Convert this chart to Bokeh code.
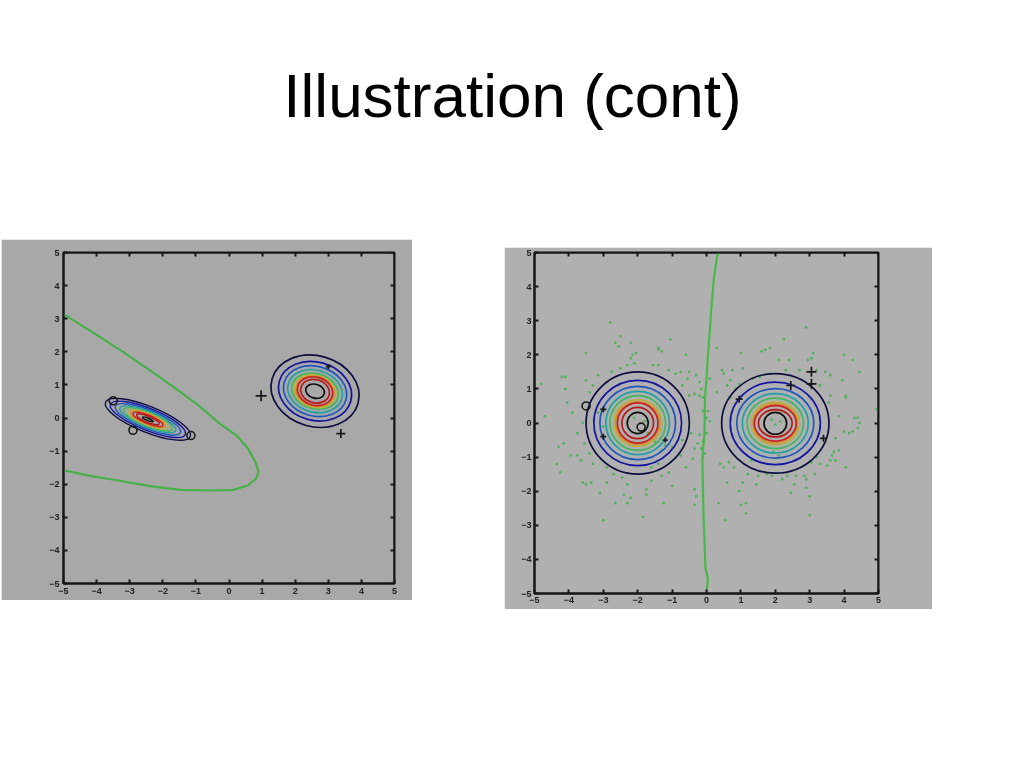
from bokeh.plotting import figure
from bokeh.layouts import column, row
from bokeh.models import LinearAxis, FixedTicker
from bokeh.embed import file_html
from bokeh.resources import INLINE

TITLE = "Illustration (cont)"
TICKS = [-5, -4, -3, -2, -1, 0, 1, 2, 3, 4, 5]
COLORS = ["#0d0d40", "#1414a0", "#1f55c0", "#1fa0a8", "#3fb860", "#b8b040", "#d88a30", "#c82020", "#b81818", "#101010"]

# left panel
L_A_X, L_A_Y, L_A_ANGLE = -2.45, -0.04, -22
L_A_W = [2.76, 2.44, 2.12, 1.82, 1.58, 1.32, 1.12, 0.98, 0.74, 0.35]
L_A_H = [0.78, 0.66, 0.56, 0.48, 0.41, 0.35, 0.30, 0.25, 0.18, 0.07]
L_B_X, L_B_Y, L_B_ANGLE = 2.6, 0.81, -16
L_B_W = [2.70, 2.24, 1.94, 1.68, 1.44, 1.28, 1.16, 1.08, 0.88, 0.58]
L_B_H = [2.14, 1.76, 1.50, 1.27, 1.06, 0.97, 0.89, 0.85, 0.70, 0.42]
L_CURVE_X = [-5, -4.2, -3.19, -2.08, -0.98, -0.27, 0.23, 0.58, 0.82, 0.89, 0.82, 0.58, 0.13, -0.47, -1.48, -2.39, -3.39, -4.2, -5]
L_CURVE_Y = [3.14, 2.64, 1.99, 1.23, 0.43, -0.18, -0.53, -0.93, -1.38, -1.63, -1.83, -2.03, -2.17, -2.19, -2.17, -2.06, -1.88, -1.75, -1.58]
L_O_X = [-3.5, -2.9, -1.15]
L_O_Y = [0.52, -0.37, -0.53]
L_P_X = [0.97, 3.38, 3.0]
L_P_Y = [0.67, -0.47, 1.55]

# right panel
R_A_X, R_A_Y = -2.0, 0.0
R_A_W = [3.00, 2.55, 2.20, 1.85, 1.62, 1.40, 1.28, 1.18, 0.92, 0.61]
R_A_H = [3.00, 2.50, 2.15, 1.85, 1.60, 1.38, 1.26, 1.18, 0.92, 0.62]
R_B_X, R_B_Y = 2.0, -0.01
R_B_W = [3.12, 2.62, 2.24, 1.92, 1.64, 1.40, 1.28, 1.22, 0.98, 0.66]
R_B_H = [2.92, 2.42, 2.04, 1.74, 1.48, 1.26, 1.14, 1.04, 0.80, 0.64]
R_CURVE_X = [0, 0.04, -0.03, -0.06, -0.08, -0.1, -0.12, -0.06, -0.04, 0, 0.04, 0.1, 0.14, 0.21, 0.31, 0.36]
R_CURVE_Y = [-5, -4.56, -4.27, -3.4, -2.9, -2.13, -1.05, -0.27, 0.8, 1.29, 1.97, 2.75, 3.34, 4.21, 4.9, 5]
R_O_X = [-3.5, -1.9]
R_O_Y = [0.5, -0.12]
R_P_X = [3.05, 3.05, 2.45, 0.95, 3.4, -3.0, -3.0, -1.2]
R_P_Y = [1.5, 1.15, 1.1, 0.7, -0.45, 0.4, -0.4, -0.5]
R_P_S = [10, 10, 9, 7, 7, 6, 6, 5]
DOTS_X = [-2.8, -2.5, -2.65, -2.55, -2.2, -3.5, -2.15, -2.2, -2.05, -1.4, -1.05, -1.4, -1.3, -0.6,
          -4.2, -4.1, -3.5, -3.4, -3.3, -3.15, -2.75, -2.5, -2.3, -2.1, -1.55, -1.4, -1.1, -0.9, -0.75, -0.5, -0.3, -0.2, -0.15, -0.55, -0.7, -0.35, -0.5, -0.2, -0.1,
          -4.8, -4.7, -4.1, -4.05, -3.15, -3.9, -3.6, -3, -3.75, -4.3, -4.15, -3.95, -3.75, -4.35, -4.25, -3.65, -3.55, -3.4, -3.3, -3.6, -3.5, -3.35, -3.1, -2.9, -2.9, -2.7, -2.45, -2.3, -2.4, -2.2, -2.3, -2.65, -3.0, -1.85, -1.75, -1.75, -1.6, -1.3, -1.25, -1.0, -1.1, -1.4, -1.6, -0.6, -0.75, -0.4, -0.35, -0.25, -0.1, -0.2, -0.45, 0.0, -0.05, -0.1, -0.35, -0.3, -0.35, -0.15,
          -1.8, -2.1, -1.7, -1.5, -1.3, -1.2, -1.0, -0.7,
          0.3, 0.1, 0.5, 0.45, 0.75, 0.7, 0.6, 0.85, 0.95, 0.3, 0.7, 0.05, 0.0, 0.1, -0.1,
          1.0, 1.6, 1.7, 1.85, 2.25, 2.9, 3.1, 3.05, 2.1, 2.4, 2.95, 3.2, 3.45, 4.0, 4.25, 4.45, 2.7, 2.3, 1.85, 1.55, 1.05, 1.35, 3.6, 3.3, 3.95, 4.05, 4.05, 3.6, 3.55, 4.95, 3.85, 4.3, 4.4, 4.45, 4.4, 4.25, 4.15, 4.0, 3.75, 3.85, 3.7, 3.6, 3.75, 4.05, 3.65, 3.3, 3.2, 3.05, 3.5, 3.15, 2.85, 2.9, 2.6, 2.35, 2.2, 1.9, 1.75, 1.5, 1.2, 1.45, 1.05, 0.6, 0.4, 0.5, 0.8, 0.65, 0.35, 0.55, 1.0, 1.15, 1.15, 0.95, 2.45, 3.0, 3.0, 2.9, 2.55,
          2.0, 2.15, 1.9, 1.95, 2.1, 1.3]
DOTS_Y = [2.95, 2.55, 2.35, 2.25, 2.35, 2.05, 2.0, 1.9, 2.05, 2.2, 2.45, 2.15, 2.1, 2.0,
          1.35, 1.35, 1.25, 0.9, 1.1, 1.4, 1.5, 1.6, 1.7, 1.75, 1.7, 1.7, 1.55, 1.45, 1.5, 1.5, 1.4, 1.2, 1.0, 1.3, 1.1, 0.85, 0.8, 0.8, 0.75,
          1.15, 0.2, 1.0, 0.6, 0.3, 0.3, 0.0, -0.1, -0.3, -0.7, -0.6, -0.95, -0.95, -1.2, -1.45, -1.1, -0.6, -0.9, -1.2, -1.75, -1.8, -1.75, -2.05, -1.75, -1.3, -1.5, -1.6, -1.8, -2.1, -2.2, -2.35, -2.35, -2.85, -2.75, -2.1, -1.95, -1.7, -1.55, -2.35, -1.85, -1.45, -1.2, -1.3, -1.3, -0.95, -1.05, -0.75, -0.6, -0.55, -0.35, -0.3, -0.3, -0.9, -1.0, -1.95, -2.15, -2.4, -0.75,
          0.05, 0.15, -0.3, -0.55, -0.8, -0.65, -0.7, -0.5,
          2.2, 1.3, 1.45, 1.55, 1.55, 1.25, 1.1, 1.0, 1.15, 0.9, 0.75, 0.35, 0.15, 0.05, 0.35,
          2.05, 2.1, 2.15, 2.2, 2.45, 2.8, 2.05, 1.9, 1.85, 1.85, 1.85, 1.55, 1.5, 2.0, 1.85, 1.5, 1.55, 1.55, 1.45, 1.35, 1.6, 1.3, 1.4, 1.1, 1.25, 0.8, 0.75, 0.8, 0.6, 0.4, 0.2, 0.15, 0.15, 0.0, -0.15, -0.25, -0.3, -0.25, -0.45, -0.8, -0.85, -1.1, -1.1, -1.3, -0.95, -1.2, -1.0, -1.15, -1.25, -1.5, -1.55, -1.65, -1.55, -1.55, -1.65, -1.55, -1.5, -1.55, -1.5, -1.8, -1.75, -1.75, -1.2, -1.3, -1.3, -1.15, -2.35, -2.85, -2.4, -2.35, -2.65, -2.0, -2.05, -2.7, -2.15, -1.9, -1.8,
          -0.05, 0.05, 0.1, -0.85, -0.95, -1.1]


def panel(width, height, bg, left, right, top, bottom, margin, standoff):
    p = figure(width=width, height=height, x_range=(-5, 5), y_range=(-5, 5), title=None,
               output_backend="svg", toolbar_location=None, x_axis_type=None, y_axis_type=None,
               min_border_left=left, min_border_right=right, min_border_top=top, min_border_bottom=bottom,
               background_fill_color=bg, border_fill_color=bg, outline_line_color="#161616",
               outline_line_width=2, margin=margin)
    p.grid.visible = False
    blank = {t: "" for t in TICKS}
    for side, labelled in (("left", True), ("below", True), ("right", False), ("above", False)):
        ax = LinearAxis(ticker=FixedTicker(ticks=TICKS), major_tick_in=4, major_tick_out=0,
                        minor_tick_line_color=None, axis_line_color="#161616", axis_line_width=2,
                        major_tick_line_color="#161616", major_tick_line_width=2,
                        major_label_text_font="Liberation Sans", major_label_text_font_size="9px",
                        major_label_text_font_style="bold", major_label_text_color="#222222",
                        major_label_standoff=standoff)
        if not labelled:
            ax.major_label_overrides = blank
            ax.major_label_standoff = 0
            ax.major_label_text_font_size = "0px"
            ax.fixed_location = 5
        p.add_layout(ax, side)
    p.styles = {"filter": "blur(0.5px)"}
    return p


def rings(p, x, y, widths, heights, angle=0, lw=1.7):
    p.ellipse(x=[x] * len(widths), y=[y] * len(widths), width=widths, height=heights,
              angle=angle, angle_units="deg", fill_color=None, line_color=COLORS, line_width=lw)


title_fig = figure(width=1024, height=239, output_backend="svg", toolbar_location=None,
                   title=TITLE, x_axis_type=None, y_axis_type=None, outline_line_color=None,
                   min_border_top=134, min_border_bottom=0, min_border_left=0, min_border_right=0,
                   margin=(0, 0, 0, 0))
title_fig.grid.visible = False
title_fig.title.align = "center"
title_fig.title.offset = 1
title_fig.title.text_font = "Liberation Sans"
title_fig.title.text_font_size = "62px"
title_fig.title.text_font_style = "normal"
title_fig.title.text_color = "#000000"

left = panel(411, 361, "#a8a8a8", 62, 18, 13, 17, (0, 0, 0, 1), 4)
rings(left, L_A_X, L_A_Y, L_A_W, L_A_H, L_A_ANGLE, lw=1.4)
rings(left, L_B_X, L_B_Y, L_B_W, L_B_H, L_B_ANGLE)
left.line(L_CURVE_X, L_CURVE_Y, line_color="#48b048", line_width=2.2)
left.scatter(L_O_X, L_O_Y, marker="circle", size=8, fill_color=None, line_color="#181818", line_width=1.6)
left.scatter(L_P_X, L_P_Y, marker="cross", size=[11, 9, 5], line_color="#181818", line_width=1.7)

right = panel(428, 362, "#b0b0b0", 30, 54, 5, 16, (8, 0, 0, 92), 3)
right.scatter(DOTS_X, DOTS_Y, marker="circle", size=2.8, fill_color="#45b050", line_color=None, fill_alpha=0.85)
rings(right, R_A_X, R_A_Y, R_A_W, R_A_H)
rings(right, R_B_X, R_B_Y, R_B_W, R_B_H)
right.line(R_CURVE_X, R_CURVE_Y, line_color="#48b848", line_width=2.2)
right.scatter(R_O_X, R_O_Y, marker="circle", size=8, fill_color=None, line_color="#181818", line_width=1.6)
right.scatter(R_P_X, R_P_Y, marker="cross", size=R_P_S, line_color="#181818", line_width=1.7)

root = column(title_fig, row(column(left, margin=(0, 0, 0, 0)), column(right, margin=(0, 0, 0, 0)), spacing=0),
              spacing=0, margin=(0, 0, 0, 0))
open("out.html", "w").write(file_html(root, INLINE))
